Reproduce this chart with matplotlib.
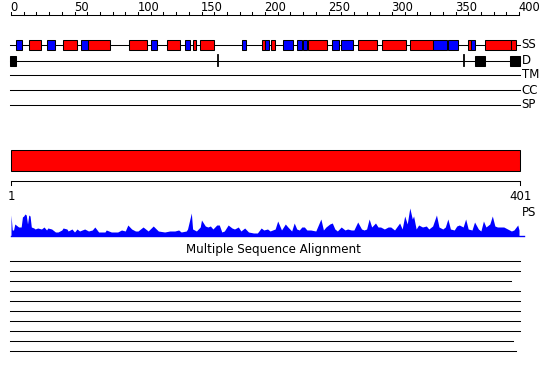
import matplotlib
matplotlib.use("Agg")
import matplotlib.pyplot as plt
from matplotlib.patches import Rectangle

# sequence length and ruler
seq_len = 401
ruler_ticks = list(range(0, 401, 10))
ruler_labels = list(range(0, 401, 50))

# secondary structure elements (start, end) in residues
helix = [(14, 24), (41, 52), (61, 78), (93, 107), (123, 133), (143, 146),
         (149, 160), (198, 200), (205, 208), (234, 249), (273, 288),
         (292, 311), (314, 332), (360, 362), (373, 394), (394, 398)]
strand = [(4, 9), (28, 35), (55, 61), (110, 115), (137, 141), (182, 185),
          (200, 203), (214, 222), (225, 229), (230, 233), (253, 258),
          (260, 269), (332, 343), (344, 352), (362, 365)]

# domain boundary track
dom_boxes = [(-1, 4), (365, 373), (393, 401)]
dom_marks = [163, 357]

# single domain bar
domain_bar = (0, 401)

# PS profile: residue, score
ps_pos = [0, 1, 2, 3, 5, 6, 8, 9, 10, 11, 12, 13, 14, 15, 16, 18, 19, 21, 24,
          26, 28, 29, 32, 35, 37, 40, 41, 44, 45, 48, 50, 52, 54, 56, 58, 61,
          64, 66, 69, 74, 75, 79, 84, 87, 90, 92, 95, 98, 100, 104, 108, 112,
          116, 121, 125, 129, 132, 134, 138, 139, 142, 143, 146, 149, 150, 153,
          155, 157, 159, 162, 164, 166, 168, 171, 174, 176, 179, 181, 184, 187,
          191, 194, 197, 199, 202, 204, 208, 210, 213, 216, 218, 221, 223, 225,
          227, 229, 231, 233, 236, 240, 244, 246, 248, 251, 253, 255, 257, 260,
          263, 265, 268, 270, 273, 276, 278, 280, 282, 284, 287, 289, 291, 294,
          297, 299, 302, 306, 308, 310, 312, 314, 316, 317, 319, 321, 324, 327,
          329, 332, 335, 337, 340, 342, 344, 346, 349, 351, 353, 356, 358, 360,
          363, 365, 368, 370, 372, 374, 377, 379, 381, 383, 386, 388, 391, 394,
          396, 399, 400]
ps_val = [21, 6, 6, 12, 10, 9, 9, 19, 20, 22, 21, 12, 21, 20, 9, 8, 7, 8, 7,
          9, 6, 8, 7, 4, 4, 6, 8, 7, 5, 7, 4, 7, 5, 6, 7, 5, 6, 9, 4, 4, 6, 4,
          4, 6, 5, 11, 7, 5, 5, 9, 5, 10, 5, 4, 5, 5, 6, 4, 5, 7, 23, 7, 5, 9,
          16, 10, 9, 10, 7, 11, 11, 4, 5, 11, 8, 7, 9, 5, 8, 4, 3, 3, 8, 6, 7,
          5, 7, 15, 6, 12, 9, 5, 13, 7, 6, 9, 9, 6, 6, 5, 17, 6, 9, 12, 13, 7,
          5, 9, 6, 7, 6, 6, 14, 7, 6, 7, 17, 9, 13, 9, 9, 7, 9, 9, 6, 13, 7, 20,
          12, 28, 17, 20, 7, 11, 9, 10, 7, 10, 21, 9, 7, 9, 17, 7, 6, 10, 11,
          9, 17, 7, 6, 14, 7, 5, 15, 9, 12, 20, 10, 9, 9, 9, 7, 5, 6, 11, 6]

# multiple sequence alignment rows: covered segments
msa_rows = [[(0, 401)], [(0, 401)], [(0, 394)], [(0, 401)], [(0, 401)],
            [(0, 401)], [(0, 401)], [(0, 401)], [(0, 395)], [(0, 25), (27, 398)]]

track_labels = ["SS", "D", "TM", "CC", "SP"]
track_y = [45, 61, 75, 90, 105]

fig = plt.figure(figsize=(5.5, 3.8), dpi=100)
ax = fig.add_axes([0, 0, 1, 1])
ax.set_xlim(-11 / 1.27, (550 - 11) / 1.27)
ax.set_ylim(380, 0)
ax.axis("off")

lw = 0.75
font = dict(family="DejaVu Sans")

# top ruler
ax.plot([0, 400], [15, 15], color="black", lw=lw)
for t in ruler_ticks:
    ax.plot([t, t], [12, 15], color="black", lw=lw)
for t in ruler_labels:
    ax.text(t - 0.5, 11, str(t), ha="left", va="baseline", fontsize=8.3, **font)

# tracks: baseline + label
for lab, y in zip(track_labels, track_y):
    ax.plot([-1, 401], [y, y], color="black", lw=lw, zorder=1)
    ax.text(402, y, lab, ha="left", va="center", fontsize=8.5, **font)

# secondary structure
for s, e in helix:
    ax.add_patch(Rectangle((s, 40), e - s, 10, facecolor="#ff0000",
                           edgecolor="black", lw=lw, zorder=2))
for s, e in strand:
    ax.add_patch(Rectangle((s, 40), e - s, 10, facecolor="#0000ff",
                           edgecolor="black", lw=lw, zorder=2))

# domain boundaries
for s, e in dom_boxes:
    ax.add_patch(Rectangle((s, 56), e - s, 10, facecolor="black",
                           edgecolor="black", lw=lw, zorder=2))
for m in dom_marks:
    ax.plot([m, m], [55, 66], color="black", lw=1.3, zorder=2)

# domain bar
ax.add_patch(Rectangle((domain_bar[0], 150), domain_bar[1] - domain_bar[0], 21,
                       facecolor="#ff0000", edgecolor="black", lw=lw))

# bottom ruler
ax.plot([0, 401], [181, 181], color="black", lw=lw)
ax.plot([0, 0], [181, 185], color="black", lw=lw)
ax.plot([401, 401], [181, 185], color="black", lw=lw)
ax.text(0, 196, "1", ha="center", va="center", fontsize=8.5, **font)
ax.text(401, 196, str(seq_len), ha="center", va="center", fontsize=8.5, **font)
ax.text(402, 212, "PS", ha="left", va="center", fontsize=8.5, **font)

# PS profile
base = 236
ax.fill_between(ps_pos, [base - v for v in ps_val], base, color="#0000ff",
                lw=0, zorder=2)
ax.plot([0, 404], [base, base], color="#0000ff", lw=1)

# MSA
ax.text(207, 250, "Multiple Sequence Alignment", ha="center", va="center",
        fontsize=8.6, **font)
for i, row in enumerate(msa_rows):
    y = 261 + i * 10
    for s, e in row:
        ax.plot([s - 1, e], [y, y], color="black", lw=lw)

fig.savefig("out.png", dpi=100)
